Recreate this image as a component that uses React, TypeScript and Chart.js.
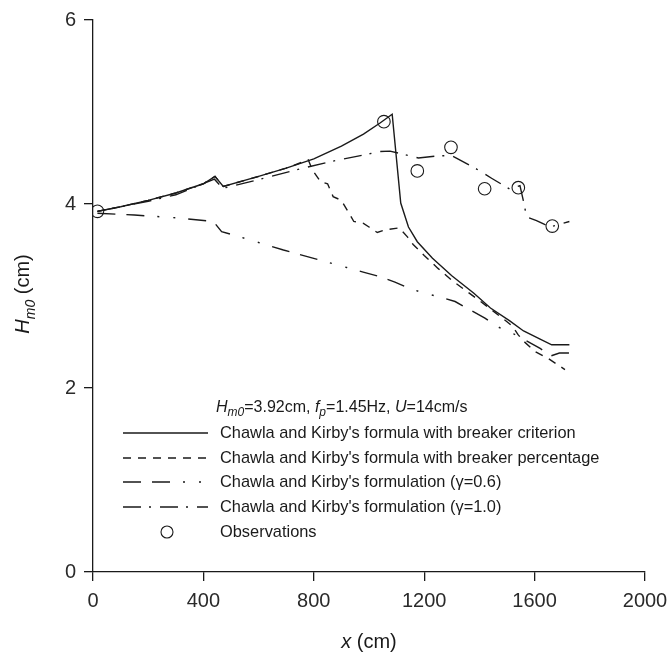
import React, { useEffect, useRef } from "react";
import { Chart, registerables } from "chart.js";

Chart.register(...registerables);

// ---- Data ----
const criterionX = [16, 100, 200, 300, 400, 442, 472, 600, 700, 800, 900, 980, 1040, 1084, 1115, 1143, 1175, 1230, 1300, 1380, 1440, 1510, 1560, 1620, 1662, 1726];
const criterionY = [3.92, 3.97, 4.04, 4.12, 4.22, 4.30, 4.19, 4.30, 4.39, 4.49, 4.63, 4.76, 4.88, 4.975, 4.01, 3.75, 3.59, 3.41, 3.22, 3.03, 2.87, 2.73, 2.62, 2.53, 2.47, 2.47];

const percentageX = [16, 100, 200, 300, 400, 442, 472, 600, 700, 780, 795, 825, 850, 870, 900, 945, 980, 1000, 1030, 1060, 1110, 1140, 1160, 1200, 1250, 1300, 1400, 1500, 1520, 1540, 1560, 1600, 1650, 1690, 1710];
const percentageY = [3.92, 3.97, 4.04, 4.12, 4.22, 4.30, 4.19, 4.30, 4.39, 4.48, 4.37, 4.24, 4.22, 4.08, 4.04, 3.81, 3.79, 3.75, 3.69, 3.72, 3.74, 3.64, 3.56, 3.44, 3.30, 3.17, 2.95, 2.72, 2.67, 2.58, 2.51, 2.40, 2.32, 2.24, 2.20];

const gamma06X = [16, 150, 300, 436, 466, 569, 690, 835, 919, 979, 1040, 1094, 1140, 1200, 1257, 1312, 1360, 1420, 1463, 1523, 1620, 1660, 1690, 1726];
const gamma06Y = [3.90, 3.88, 3.85, 3.81, 3.70, 3.61, 3.50, 3.38, 3.31, 3.26, 3.21, 3.15, 3.09, 3.03, 2.99, 2.94, 2.86, 2.76, 2.67, 2.59, 2.43, 2.35, 2.38, 2.38];

const gamma10X = [16, 200, 300, 440, 470, 593, 762, 859, 960, 1040, 1076, 1179, 1257, 1300, 1390, 1444, 1511, 1547, 1559, 1571, 1607, 1656, 1726];
const gamma10Y = [3.92, 4.03, 4.10, 4.27, 4.17, 4.26, 4.39, 4.46, 4.52, 4.57, 4.575, 4.50, 4.525, 4.525, 4.38, 4.28, 4.16, 4.20, 4.04, 3.86, 3.82, 3.75, 3.81];

const obsX = [16, 1054, 1175, 1297, 1419, 1541, 1664];
const obsY = [3.92, 4.895, 4.36, 4.616, 4.166, 4.177, 3.76];

const xTicks = [0, 400, 800, 1200, 1600, 2000];
const yTicks = [0, 2, 4, 6];

const legendLabels = [
  "Chawla and Kirby's formula with breaker criterion",
  "Chawla and Kirby's formula with breaker percentage",
  "Chawla and Kirby's formulation (\u03B3=0.6)",
  "Chawla and Kirby's formulation (\u03B3=1.0)",
  "Observations",
];

const FONT = '"Liberation Sans", Arial, Helvetica, sans-serif';
const INK = "#1a1a1a";

const dashes = {
  solid: [] as number[],
  pct: [8, 7],
  g06: [18, 11, 18, 13, 2, 14, 2, 13],
  g10: [18, 8, 2, 9],
};

const toPts = (xs: number[], ys: number[]) => xs.map((x, i) => ({ x, y: ys[i] }));

type Run = { t: string; it?: boolean; sub?: boolean };

const overlayPlugin = {
  id: "overlay",
  afterDraw(chart: any) {
    const ctx: CanvasRenderingContext2D = chart.ctx;
    ctx.save();
    ctx.fillStyle = INK;
    ctx.strokeStyle = INK;

    const drawRuns = (runs: Run[], x: number, y: number, size: number) => {
      let cx = x;
      for (const r of runs) {
        const fs = r.sub ? Math.round(size * 0.72) : size;
        ctx.font = `${r.it ? "italic " : ""}${fs}px ${FONT}`;
        ctx.textBaseline = "alphabetic";
        ctx.textAlign = "left";
        ctx.fillText(r.t, cx, r.sub ? y + size * 0.28 : y);
        cx += ctx.measureText(r.t).width;
      }
      return cx - x;
    };
    const measureRuns = (runs: Run[], size: number) => {
      let w = 0;
      for (const r of runs) {
        const fs = r.sub ? Math.round(size * 0.72) : size;
        ctx.font = `${r.it ? "italic " : ""}${fs}px ${FONT}`;
        w += ctx.measureText(r.t).width;
      }
      return w;
    };

    drawRuns(
      [
        { t: "H", it: true },
        { t: "m0", it: true, sub: true },
        { t: "=3.92cm, " },
        { t: "f", it: true },
        { t: "p", it: true, sub: true },
        { t: "=1.45Hz, " },
        { t: "U", it: true },
        { t: "=14cm/s" },
      ],
      216,
      412,
      16
    );

    // Legend
    const rowsY = [433, 458, 482, 507, 532];
    const lineDash = [dashes.solid, dashes.pct, dashes.g06, dashes.g10];
    ctx.lineWidth = 1.3;
    for (let i = 0; i < 4; i++) {
      ctx.setLineDash(lineDash[i]);
      ctx.beginPath();
      ctx.moveTo(123, rowsY[i]);
      ctx.lineTo(208, rowsY[i]);
      ctx.stroke();
    }
    ctx.setLineDash([]);
    ctx.lineWidth = 1.1;
    ctx.beginPath();
    ctx.arc(167, rowsY[4], 6, 0, Math.PI * 2);
    ctx.stroke();

    ctx.font = `16.4px ${FONT}`;
    ctx.textBaseline = "middle";
    ctx.textAlign = "left";
    legendLabels.forEach((lab, i) => ctx.fillText(lab, 220, rowsY[i]));

    // X axis title
    const xRuns: Run[] = [{ t: "x", it: true }, { t: " (cm)" }];
    const xw = measureRuns(xRuns, 20);
    drawRuns(xRuns, 369 - xw / 2, 648, 20);

    // Y axis title (rotated)
    const yRuns: Run[] = [{ t: "H", it: true }, { t: "m0", it: true, sub: true }, { t: " (cm)" }];
    const yw = measureRuns(yRuns, 20);
    ctx.save();
    ctx.translate(29, 294);
    ctx.rotate(-Math.PI / 2);
    drawRuns(yRuns, -yw / 2, 0, 20);
    ctx.restore();

    ctx.restore();
  },
};

export default function App() {
  const ref = useRef<HTMLCanvasElement | null>(null);

  useEffect(() => {
    document.body.style.margin = "0";
    const canvas = ref.current;
    if (!canvas) return;
    const lineDs = (label: string, xs: number[], ys: number[], dash: number[]) => ({
      label,
      data: toPts(xs, ys),
      showLine: true,
      borderColor: INK,
      borderWidth: 1.4,
      borderDash: dash,
      pointRadius: 0,
      pointHoverRadius: 0,
      fill: false,
      tension: 0,
    });
    const chart = new Chart(canvas, {
      type: "scatter",
      data: {
        datasets: [
          lineDs(legendLabels[0], criterionX, criterionY, dashes.solid),
          lineDs(legendLabels[1], percentageX, percentageY, dashes.pct),
          lineDs(legendLabels[2], gamma06X, gamma06Y, dashes.g06),
          lineDs(legendLabels[3], gamma10X, gamma10Y, dashes.g10),
          {
            label: legendLabels[4],
            data: toPts(obsX, obsY),
            showLine: false,
            pointStyle: "circle",
            pointRadius: 6.3,
            pointBorderWidth: 1.1,
            pointBorderColor: INK,
            pointBackgroundColor: "rgba(0,0,0,0)",
          } as any,
        ],
      },
      options: {
        animation: false,
        responsive: false,
        devicePixelRatio: 1,
        layout: { padding: { left: 0, right: 24, top: 20, bottom: 0 } },
        plugins: { legend: { display: false }, tooltip: { enabled: false } },
        scales: {
          x: {
            type: "linear",
            min: 0,
            max: 2000,
            afterBuildTicks: (s: any) => {
              s.ticks = xTicks.map((v) => ({ value: v }));
            },
            afterFit: (s: any) => {
              s.height = 82;
              s.paddingLeft = 0;
              s.paddingRight = 0;
            },
            ticks: {
              color: "#2a2a2a",
              font: { family: FONT, size: 20 },
              padding: 8,
              maxRotation: 0,
              autoSkip: false,
              callback: (v: any) => String(v),
            },
            grid: { drawOnChartArea: false, drawTicks: true, tickLength: 9, color: INK, lineWidth: 1.3 },
            border: { color: INK, width: 1.3 },
          },
          y: {
            type: "linear",
            min: 0,
            max: 6,
            afterBuildTicks: (s: any) => {
              s.ticks = yTicks.map((v) => ({ value: v }));
            },
            afterFit: (s: any) => {
              s.width = 93;
              s.paddingTop = 0;
              s.paddingBottom = 0;
            },
            ticks: {
              color: "#2a2a2a",
              font: { family: FONT, size: 20 },
              padding: 8,
              autoSkip: false,
              callback: (v: any) => String(v),
            },
            grid: { drawOnChartArea: false, drawTicks: true, tickLength: 9, color: INK, lineWidth: 1.3 },
            border: { color: INK, width: 1.3 },
          },
        },
      },
      plugins: [overlayPlugin],
    });
    return () => chart.destroy();
  }, []);

  return (
    <div style={{ width: 669, height: 654, position: "relative" }}>
      <canvas ref={ref} width={669} height={654} style={{ display: "block", width: 669, height: 654 }} />
    </div>
  );
}
